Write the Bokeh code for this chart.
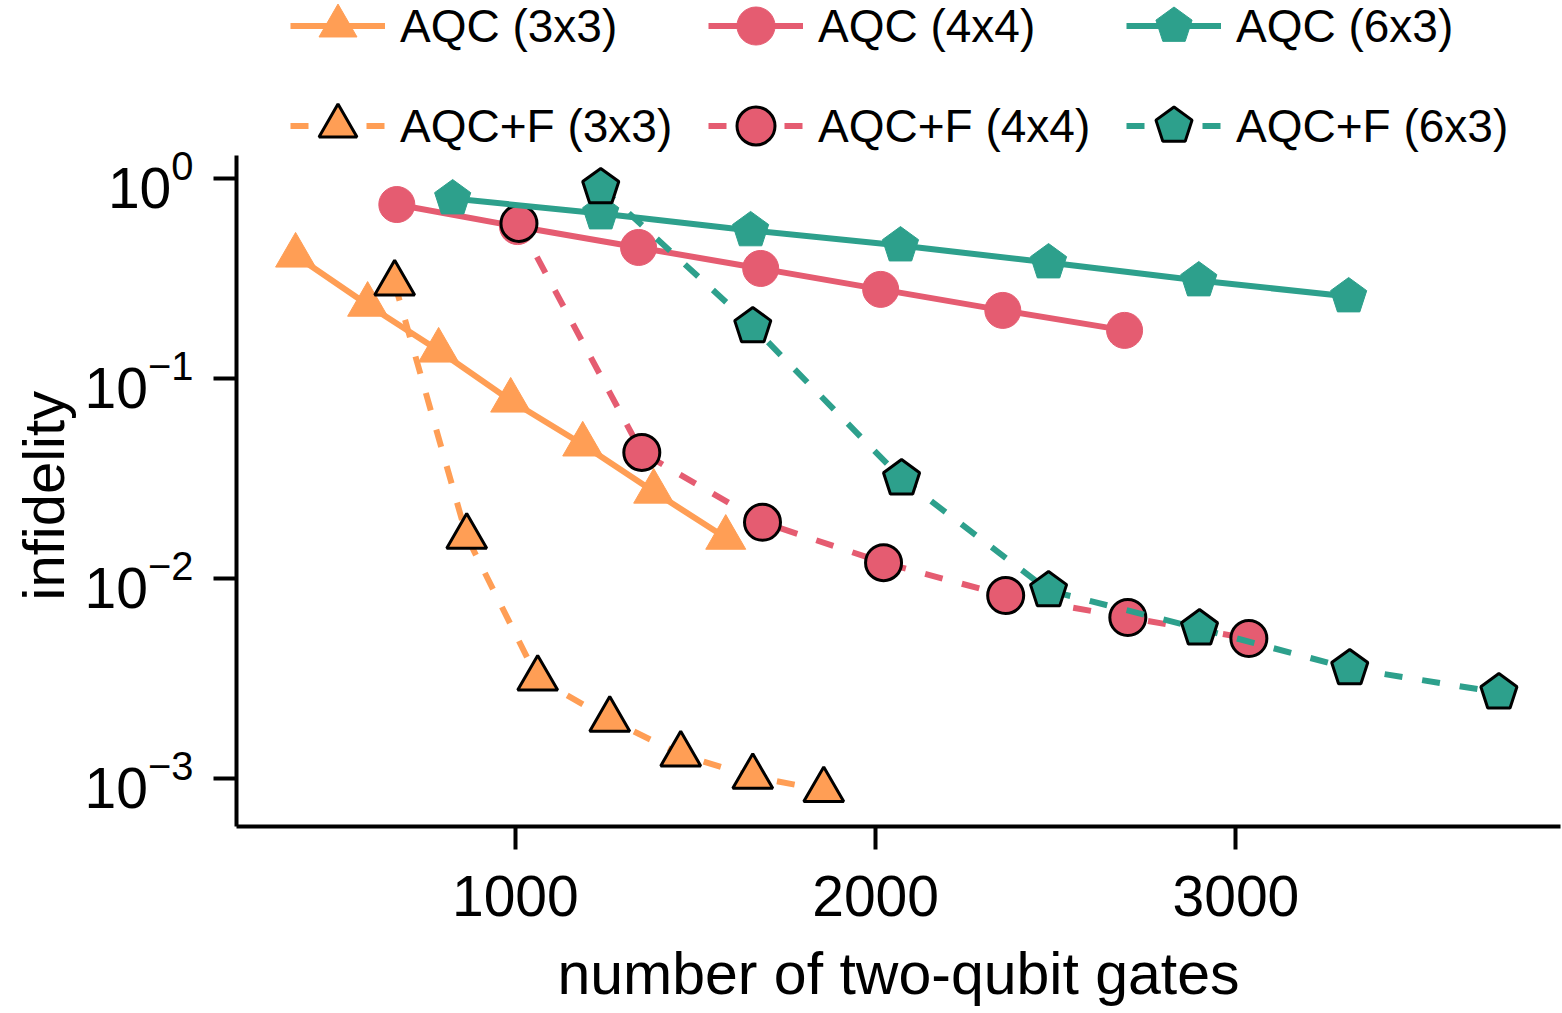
from bokeh.plotting import figure
from bokeh.models import Range1d, FixedTicker, Legend, LegendItem, ColumnDataSource, Title
from bokeh.embed import file_html
from bokeh.resources import INLINE

# ---- data ----
gates_aqc_3x3 = [390, 590, 787, 987, 1187, 1384, 1584]
infid_aqc_3x3 = [0.412, 0.234, 0.138, 0.0776, 0.0468, 0.0272, 0.0160]
gates_aqcf_3x3 = [665, 865, 1062, 1262, 1459, 1659, 1856]
infid_aqcf_3x3 = [0.299, 0.0162, 0.00316, 0.00197, 0.00132, 0.00102, 0.000876]

gates_aqc_4x4 = [671, 1006, 1342, 1681, 2014, 2353, 2691]
infid_aqc_4x4 = [0.741, 0.575, 0.452, 0.355, 0.279, 0.219, 0.174]
gates_aqcf_4x4 = [1010, 1351, 1686, 2022, 2361, 2700, 3036]
infid_aqcf_4x4 = [0.596, 0.0427, 0.0191, 0.0120, 0.00822, 0.00638, 0.00501]

gates_aqc_6x3 = [826, 1237, 1653, 2069, 2480, 2897, 3313]
infid_aqc_6x3 = [0.794, 0.668, 0.550, 0.462, 0.380, 0.309, 0.257]
gates_aqcf_6x3 = [1237, 1659, 2072, 2480, 2899, 3316, 3730]
infid_aqcf_6x3 = [0.902, 0.182, 0.0316, 0.00871, 0.00562, 0.00355, 0.00269]

series_labels = ["AQC (3x3)", "AQC+F (3x3)", "AQC (4x4)", "AQC+F (4x4)", "AQC (6x3)", "AQC+F (6x3)"]
x_ticks = [1000, 2000, 3000]
y_ticks = [1e-3, 1e-2, 1e-1, 1.0]
y_axis_extent = (10 ** -3.24, 10 ** 0.115)

ORANGE = "#FF9E55"
RED = "#E55C71"
TEAL = "#2DA08C"
FONT = "Liberation Sans"

# frame reaches the top of the canvas so that the legend above the axes is not clipped;
# the drawn y axis itself is limited by its bounds
p = figure(width=1562, height=1013, y_axis_type="log",
           x_range=Range1d(226, 3901), y_range=Range1d(10 ** -3.24, 10 ** 0.89),
           output_backend="svg", toolbar_location=None,
           min_border_left=236, min_border_right=2, min_border_top=0, min_border_bottom=187)
p.outline_line_color = None
p.grid.visible = False
p.background_fill_color = "white"
p.border_fill_color = "white"

p.xaxis.ticker = FixedTicker(ticks=x_ticks)
p.yaxis.ticker = FixedTicker(ticks=y_ticks)
p.yaxis.bounds = y_axis_extent
p.xaxis.axis_label = "number of two-qubit gates"
for ax in (p.xaxis[0], p.yaxis[0]):
    ax.axis_line_width = 4
    ax.axis_line_color = "black"
    ax.major_tick_line_width = 4
    ax.major_tick_line_color = "black"
    ax.major_tick_out = 23
    ax.major_tick_in = 0
    ax.minor_tick_line_color = None
    ax.major_label_text_font = FONT
    ax.major_label_text_font_size = "57px"
    ax.major_label_text_color = "black"
    ax.axis_label_text_font = FONT
    ax.axis_label_text_font_size = "59px"
    ax.axis_label_text_font_style = "normal"
    ax.axis_label_text_color = "black"
p.xaxis.major_label_standoff = 26
p.xaxis.axis_label_standoff = 22
p.yaxis.major_label_standoff = 20

ytitle = Title(text="infidelity", align="left", offset=226, standoff=8,
               text_font=FONT, text_font_size="58px", text_font_style="normal",
               text_color="black", vertical_align="top")
p.add_layout(ytitle, "left")

LW = 6
DASH = "18 20"

def add_series(gx, gy, color, marker, dashed):
    src = ColumnDataSource(dict(x=gx, y=gy))
    ln = p.line("x", "y", source=src, line_color=color, line_width=LW,
                line_dash=DASH if dashed else "solid")
    edge = "black" if dashed else color
    ew = 3 if dashed else 1
    if marker == "pentagon":
        mk = p.ngon(x="x", y="y", radius=19, radius_units="screen", n=5, angle=0,
                    source=src, fill_color=color, line_color=edge, line_width=ew)
    elif marker == "triangle":
        mk = p.scatter("x", "y", source=src, marker="triangle", size=40,
                       fill_color=color, line_color=edge, line_width=ew)
    else:
        mk = p.scatter("x", "y", source=src, marker="circle", size=36,
                       fill_color=color, line_color=edge, line_width=ew)
    return [ln, mk]

r = []
r.append(add_series(gates_aqc_3x3, infid_aqc_3x3, ORANGE, "triangle", False))
r.append(add_series(gates_aqcf_3x3, infid_aqcf_3x3, ORANGE, "triangle", True))
r.append(add_series(gates_aqc_4x4, infid_aqc_4x4, RED, "circle", False))
r.append(add_series(gates_aqcf_4x4, infid_aqcf_4x4, RED, "circle", True))
r.append(add_series(gates_aqc_6x3, infid_aqc_6x3, TEAL, "pentagon", False))
r.append(add_series(gates_aqcf_6x3, infid_aqcf_6x3, TEAL, "pentagon", True))

items = [LegendItem(label=lab, renderers=rr) for lab, rr in zip(series_labels, r)]
legend = Legend(items=items, location=(54, 653), orientation="vertical", ncols=3,
                glyph_width=95, glyph_height=95, label_standoff=15, spacing=5,
                padding=0, margin=0, label_width=303,
                label_text_font=FONT, label_text_font_size="46px", label_text_color="black",
                border_line_color=None, background_fill_alpha=0)
p.add_layout(legend, "center")

open("out.html", "w").write(file_html(p, INLINE))
